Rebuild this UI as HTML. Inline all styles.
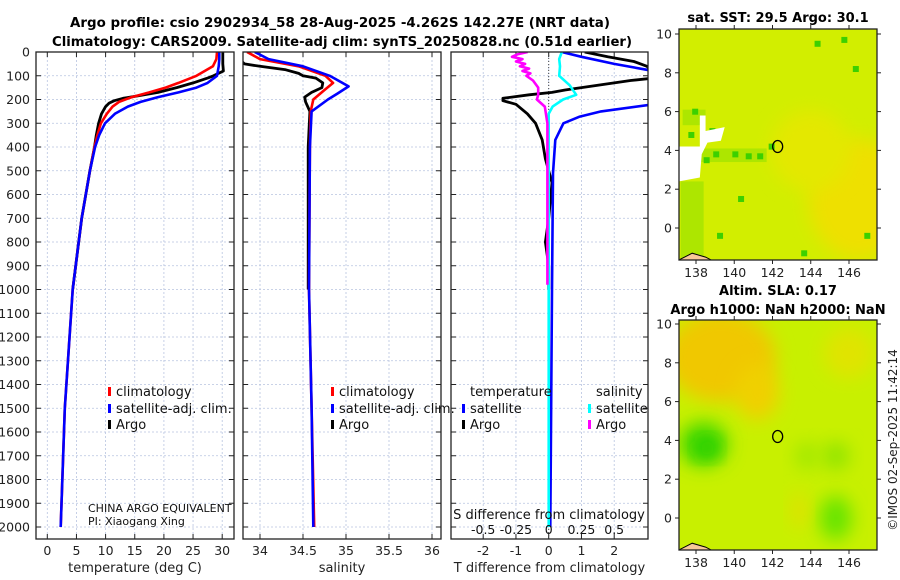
<!DOCTYPE html>
<html><head><meta charset="utf-8"><style>
html,body{margin:0;padding:0;background:#fff;width:900px;height:580px;overflow:hidden}
svg{display:block;font-family:"DejaVu Sans","Liberation Sans",sans-serif}
</style></head><body>
<svg id="fig" width="900" height="580" viewBox="0 0 900 580" xmlns="http://www.w3.org/2000/svg">
<defs>
<clipPath id="c1"><rect x="36" y="52" width="198" height="487"/></clipPath>
<clipPath id="c2"><rect x="243" y="52" width="198" height="487"/></clipPath>
<clipPath id="c3"><rect x="451" y="52" width="197" height="487"/></clipPath>
<clipPath id="cm1"><rect x="679" y="29" width="198" height="231"/></clipPath>
<clipPath id="cm2"><rect x="679" y="320" width="198" height="230"/></clipPath>
<filter id="bl" x="-50%" y="-50%" width="200%" height="200%"><feGaussianBlur stdDeviation="9"/></filter>
</defs>
<text x="340" y="27" text-anchor="middle" font-weight="bold" font-size="13" textLength="540" lengthAdjust="spacingAndGlyphs">Argo profile: csio 2902934_58 28-Aug-2025 -4.262S 142.27E (NRT data)</text>
<text x="342" y="46" text-anchor="middle" font-weight="bold" font-size="13" textLength="580" lengthAdjust="spacingAndGlyphs">Climatology: CARS2009. Satellite-adj clim: synTS_20250828.nc (0.51d earlier)</text>
<g id="panels"></g>
<g id="maps"></g>
<text x="778" y="22" text-anchor="middle" font-weight="bold" font-size="13">sat. SST: 29.5 Argo: 30.1</text>
<text x="778" y="295" text-anchor="middle" font-weight="bold" font-size="13">Altim. SLA: 0.17</text>
<text x="778" y="314" text-anchor="middle" font-weight="bold" font-size="13">Argo h1000: NaN h2000: NaN</text>
<text transform="translate(897,440) rotate(-90)" text-anchor="middle" font-size="12" fill="#222">©IMOS 02-Sep-2025 11:42:14</text>
</svg>
<script>
// ---- data ----
const depthTClim = [0,30,60,100,130,150,170,190,210,230,260,300,350,400,500,700,1000,1500,2000];
const tempClim   = [29.1,29.0,28.4,25.6,22.5,20.3,17.5,14.5,12.3,11.2,10.2,9.2,8.6,8.1,7.3,5.9,4.35,3.0,2.3];
const depthTSat  = [0,30,60,100,130,150,170,190,210,230,260,300,350,400,500,700,1000,1500,2000];
const tempSat    = [29.5,29.5,29.4,29.1,27.5,25.6,22.5,19,16,13.8,11.6,9.9,8.9,8.2,7.3,5.9,4.35,3.0,2.3];
const depthTArgo = [0,50,80,100,110,130,150,170,185,195,205,215,230,260,300,350,400,500,700,1000];
const tempArgo   = [30.1,30.1,30.2,28.5,27.5,25,22.2,19,15.5,13,11.5,10.6,10.0,9.3,8.8,8.4,8.1,7.3,5.9,4.35];

const depthSClim = [0,30,60,100,130,160,200,250,400,1000,1500,2000];
const salClim    = [33.85,34.0,34.45,34.76,34.85,34.75,34.62,34.59,34.58,34.57,34.6,34.63];
const depthSSat  = [0,30,60,100,145,175,200,250,400,1000,1500,2000];
const salSat     = [33.94,34.1,34.5,34.81,35.03,34.9,34.79,34.6,34.58,34.57,34.6,34.62];
const depthSArgo = [40,50,60,75,90,100,110,130,150,170,190,210,250,400,1000];
const salArgo    = [33.79,33.82,34.0,34.3,34.45,34.5,34.65,34.73,34.72,34.6,34.52,34.53,34.58,34.56,34.56];

const depthDT    = [0,20,40,60,90,110,120,140,160,170,180,195,205,220,260,300,370,450,550,700,800,900,1000];
const dTArgo     = [1.1,1.8,2.6,3.0,3.2,3.2,2.5,1.5,0.5,0.1,-0.6,-1.4,-1.4,-1.0,-0.65,-0.4,-0.2,-0.1,0.1,0,-0.1,0,0];
const depthDTSat = [0,20,50,80,150,220,250,272,300,370,510,1000,2000];
const dTSat      = [0.4,1.0,2.0,3.2,3.6,3.2,1.6,0.95,0.45,0.2,0.13,0.1,0.05];
const depthDS    = [0,10,20,30,40,50,60,70,80,90,100,120,150,180,200,230,300,600,980];
const dSArgo     = [-0.16,-0.24,-0.28,-0.2,-0.25,-0.18,-0.22,-0.15,-0.2,-0.14,-0.17,-0.12,-0.08,-0.08,-0.09,-0.03,-0.01,-0.01,-0.01];
const depthDSSat = [0,30,60,100,140,180,200,230,260,1000,2000];
const dSSat      = [0.1,0.08,0.086,0.08,0.16,0.21,0.11,0.03,0,0,0];

const depthTicks = [0,100,200,300,400,500,600,700,800,900,1000,1100,1200,1300,1400,1500,1600,1700,1800,1900,2000];
const tTicks = [0,5,10,15,20,25,30];
const sTicks = [34,34.5,35,35.5,36];
const sTickLabels = ['34','34.5','35','35.5','36'];
const dTTicks = [-2,-1,0,1,2];
const dSTicks = [-0.5,-0.25,0,0.25,0.5];
const dSTickLabels = ['-0.5','-0.25','0','0.25','0.5'];
const lonTicks = [138,140,142,144,146];
const latTicks = [0,2,4,6,8,10];
const floatLon = 142.27, floatLat = 4.2;

// ---- axes ----
const yD = d => 52 + d*0.2375;
const xT = t => 47.3 + t*5.83;
const xS = s => 260 + (s-34)*86;
const xDT = v => 548.7 + v*32.75;
const xDS = v => 548.7 + v*131;
const NS='http://www.w3.org/2000/svg';
function el(tag, attrs, parent){const e=document.createElementNS(NS,tag);for(const k in attrs)e.setAttribute(k,attrs[k]);parent.appendChild(e);return e;}
const P=document.getElementById('panels');

function panel(x0,w,name,xt,xf,labels,xlabel,showY){
  const g=el('g',{},P);
  
  
  depthTicks.forEach(d=>{el('line',{x1:x0,x2:x0+w,y1:yD(d),y2:yD(d),stroke:'#b8c4e0','stroke-width':0.8,'stroke-dasharray':'2,2'},g);});
  xt.forEach(v=>{el('line',{x1:xf(v),x2:xf(v),y1:52,y2:539,stroke:'#b8c4e0','stroke-width':0.8,'stroke-dasharray':'2,2'},g);});
  depthTicks.forEach(d=>{
    el('line',{x1:x0,x2:x0+5,y1:yD(d),y2:yD(d),stroke:'#222','stroke-width':1},g);
    el('line',{x1:x0+w-5,x2:x0+w,y1:yD(d),y2:yD(d),stroke:'#222','stroke-width':1},g);
    if(showY){const t=el('text',{x:x0-6,y:yD(d)+4.5,'text-anchor':'end','font-size':12.5,fill:'#222'},g);t.textContent=d;
      
      }
  });
  xt.forEach((v,i)=>{
    el('line',{x1:xf(v),x2:xf(v),y1:539,y2:534,stroke:'#222'},g);
    el('line',{x1:xf(v),x2:xf(v),y1:52,y2:57,stroke:'#222'},g);
    const t=el('text',{x:xf(v),y:555,'text-anchor':'middle','font-size':12.5,fill:'#222'},g);t.textContent=labels[i];
    
    
  });
  const xl=el('text',{x:x0+w/2,y:572,'text-anchor':'middle','font-size':13,fill:'#222'},g);xl.textContent=xlabel;
  
  
  return g;
}
function line(g,depths,vals,xf,color,clip,name,wd){
  const pts=depths.map((d,i)=>xf(vals[i]).toFixed(1)+','+yD(d).toFixed(1)).join(' ');
  const p=el('polyline',{points:pts,fill:'none',stroke:color,'stroke-width':wd||2.6,'stroke-linejoin':'round','clip-path':'url(#'+clip+')'},g);
  
  
}
function legend(g,x,y,color,label){
  el('rect',{x:x,y:y-9,width:3,height:9,fill:color},g);
  const t=el('text',{x:x+8,y:y,'font-size':13,fill:'#111'},g);t.textContent=label;
  
  
}
function frame(g,x0,w){el('rect',{x:x0,y:52,width:w,height:487,fill:'none',stroke:'#222','stroke-width':1.3},g);}

// panel 1
const g1=panel(36,198,'temperature-panel',tTicks,xT,tTicks.map(String),'temperature (deg C)',true);
line(g1,depthTArgo,tempArgo,xT,'#000','c1','argo-temperature-line',2.8);
line(g1,depthTClim,tempClim,xT,'#f00','c1','climatology-temperature-line');
line(g1,depthTSat,tempSat,xT,'#00f','c1','satellite-temperature-line');
legend(g1,108,396,'#f00','climatology');legend(g1,108,413,'#00f','satellite-adj. clim.');legend(g1,108,429,'#000','Argo');
let t=el('text',{x:88,y:512,'font-size':11,fill:'#111'},g1);t.textContent='CHINA ARGO EQUIVALENT';


t=el('text',{x:88,y:525,'font-size':11,fill:'#111'},g1);t.textContent='PI: Xiaogang Xing';


frame(g1,36,198);

// panel 2
const g2=panel(243,198,'salinity-panel',sTicks,xS,sTickLabels,'salinity',false);
line(g2,depthSArgo,salArgo,xS,'#000','c2','argo-salinity-line',2.8);
line(g2,depthSClim,salClim,xS,'#f00','c2','climatology-salinity-line');
line(g2,depthSSat,salSat,xS,'#00f','c2','satellite-salinity-line');
legend(g2,331,396,'#f00','climatology');legend(g2,331,413,'#00f','satellite-adj. clim.');legend(g2,331,429,'#000','Argo');
frame(g2,243,198);

// panel 3
const g3=panel(451,197,'difference-panel',dTTicks,xDT,dTTicks.map(String),'T difference from climatology',false);
el('line',{x1:xDT(0),x2:xDT(0),y1:52,y2:539,stroke:'#444','stroke-width':1,'stroke-dasharray':'1,2'},g3);
line(g3,depthDT,dTArgo,xDT,'#000','c3','argo-temperature-difference-line',2.8);
line(g3,depthDTSat,dTSat,xDT,'#00f','c3','satellite-temperature-difference-line');
line(g3,depthDSSat,dSSat,xDS,'#0ff','c3','satellite-salinity-difference-line');
line(g3,depthDS,dSArgo,xDS,'#f0f','c3','argo-salinity-difference-line');
t=el('text',{x:470,y:396,'font-size':13,fill:'#111'},g3);t.textContent='temperature';


t=el('text',{x:596,y:396,'font-size':13,fill:'#111'},g3);t.textContent='salinity';


legend(g3,462,413,'#00f','satellite');legend(g3,462,429,'#000','Argo');
legend(g3,588,413,'#0ff','satellite');legend(g3,588,429,'#f0f','Argo');
t=el('text',{x:549,y:519,'text-anchor':'middle','font-size':13,fill:'#111'},g3);t.textContent='S difference from climatology';


dSTicks.forEach((v,i)=>{const s=el('text',{x:xDS(v),y:534,'text-anchor':'middle','font-size':12.5,fill:'#111'},g3);s.textContent=dSTickLabels[i];
  
  });
frame(g3,451,197);

// ---- maps ----
const M=document.getElementById('maps');
const xL=l=>696+(l-138)*19.125;
function mapAxes(g,y0,h,yl){
  lonTicks.forEach(l=>{
    el('line',{x1:xL(l),x2:xL(l),y1:y0+h,y2:y0+h+4,stroke:'#222'},g);
    el('line',{x1:xL(l),x2:xL(l),y1:y0,y2:y0-4,stroke:'#222'},g);
    const s=el('text',{x:xL(l),y:y0+h+17,'text-anchor':'middle','font-size':12.5,fill:'#222'},g);s.textContent=l;
    
    
  });
  latTicks.forEach(a=>{
    el('line',{x1:679,x2:675,y1:yl(a),y2:yl(a),stroke:'#222'},g);
    el('line',{x1:877,x2:881,y1:yl(a),y2:yl(a),stroke:'#222'},g);
    const s=el('text',{x:672,y:yl(a)+4.5,'text-anchor':'end','font-size':12.5,fill:'#222'},g);s.textContent=a;
    
    
  });
  el('rect',{x:679,y:y0,width:198,height:h,fill:'none',stroke:'#222','stroke-width':1.3},g);
}
// map 1 SST
const m1=el('g',{},M);


const yA=a=>228-a*19.4;
const c1=el('g',{'clip-path':'url(#cm1)'},m1);
el('rect',{x:679,y:29,width:198,height:231,fill:'#d2ee00'},c1);
el('ellipse',{cx:xL(146.5),cy:yA(1.5),rx:50,ry:60,fill:'#eee000',filter:'url(#bl)'},c1);
el('ellipse',{cx:xL(144),cy:yA(4),rx:40,ry:40,fill:'#e4e800',filter:'url(#bl)'},c1);
[[137.2,3.4,4.5,0.7],[137.2,-1.6,1.2,4],[137.3,5.3,1.2,0.8]].forEach(r=>{
  el('rect',{x:xL(r[0]),y:yA(r[1]+r[3]),width:r[2]*19.1,height:r[3]*19.4,fill:'#a4e400',opacity:0.8},c1);});
[[138.4,3.3],[139.9,3.6],[140.6,3.5],[145.6,9.5],[144.2,9.3],[146.2,8],[141.8,4],[138.7,4.8],[139.1,-0.6],[146.8,-0.6],[143.5,-1.5],[137.6,4.6],[138.9,3.6],[141.2,3.5],[140.2,1.3],[137.8,5.8]].forEach(p=>{
  el('rect',{x:xL(p[0]),y:yA(p[1]+0.35),width:6,height:6,fill:'#3cd000'},c1);});
el('path',{d:`M${xL(137.1)},${yA(4.2)} L${xL(138.2)},${yA(4.2)} L${xL(138.2)},${yA(5.8)} L${xL(138.5)},${yA(5.8)} L${xL(138.5)},${yA(5.0)} L${xL(139.5)},${yA(5.2)} L${xL(139.3)},${yA(4.5)} L${xL(138.6)},${yA(4.4)} L${xL(138.3)},${yA(3.8)} L${xL(138.2)},${yA(2.6)} L${xL(137.1)},${yA(2.4)} Z`,fill:'#fff'},c1);
el('path',{d:`M${xL(137.1)},${yA(-1.65)} L${xL(137.8)},${yA(-1.3)} L${xL(138.5)},${yA(-1.5)} L${xL(138.8)},${yA(-1.65)} Z`,fill:'#f8c898',stroke:'#000','stroke-width':1},c1);
el('ellipse',{cx:xL(floatLon),cy:yA(floatLat),rx:5,ry:6,fill:'none',stroke:'#000','stroke-width':1.3},c1);
mapAxes(m1,29,231,yA);
// map 2 SLA
const m2=el('g',{},M);


const yB=a=>518-a*19.4;
const c2=el('g',{'clip-path':'url(#cm2)'},m2);
el('rect',{x:679,y:320,width:198,height:230,fill:'#c8f000'},c2);
el('ellipse',{cx:xL(139.3),cy:yB(8.3),rx:55,ry:45,fill:'#f0c800',filter:'url(#bl)'},c2);
el('ellipse',{cx:xL(141.2),cy:yB(6.5),rx:22,ry:28,fill:'#f0d000',filter:'url(#bl)'},c2);
el('ellipse',{cx:xL(146),cy:yB(8.5),rx:25,ry:25,fill:'#e0e400',filter:'url(#bl)'},c2);
el('ellipse',{cx:xL(138.4),cy:yB(3.8),rx:24,ry:22,fill:'#40d800',filter:'url(#bl)'},c2);
el('ellipse',{cx:xL(138.6),cy:yB(3.6),rx:10,ry:9,fill:'#22cc00',filter:'url(#bl)'},c2);
el('ellipse',{cx:xL(145.3),cy:yB(0),rx:16,ry:22,fill:'#66e400',filter:'url(#bl)'},c2);
el('ellipse',{cx:xL(145.3),cy:yB(3.2),rx:14,ry:14,fill:'#90e400',filter:'url(#bl)'},c2);
el('ellipse',{cx:xL(143.8),cy:yB(3.2),rx:12,ry:14,fill:'#a0e800',filter:'url(#bl)'},c2);
el('ellipse',{cx:xL(143.4),cy:yB(0.4),rx:8,ry:18,fill:'#e0e000',filter:'url(#bl)'},c2);
el('path',{d:`M${xL(137.1)},${yB(-1.65)} L${xL(137.8)},${yB(-1.3)} L${xL(138.5)},${yB(-1.5)} L${xL(138.8)},${yB(-1.65)} Z`,fill:'#f8c898',stroke:'#000','stroke-width':1},c2);
el('ellipse',{cx:xL(floatLon),cy:yB(floatLat),rx:5,ry:6,fill:'none',stroke:'#000','stroke-width':1.3},c2);
mapAxes(m2,320,230,yB);
</script>
</body></html>
